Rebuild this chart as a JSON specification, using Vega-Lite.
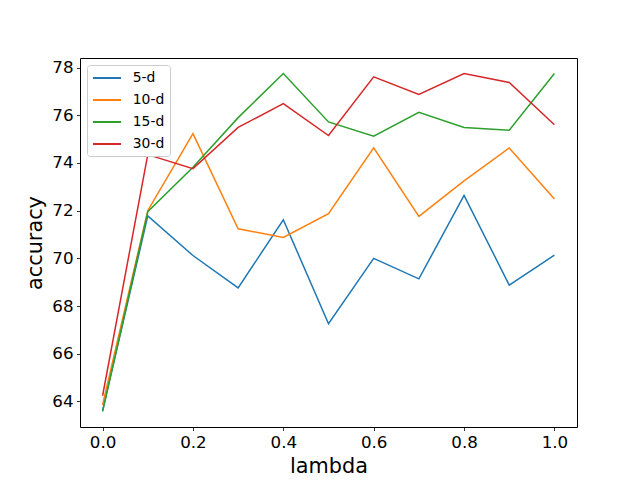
{
  "$schema": "https://vega.github.io/schema/vega-lite/v6.json",
  "width": 497,
  "height": 369,
  "autosize": {"type": "none"},
  "padding": {"left": 80, "top": 58, "right": 63, "bottom": 53},
  "background": "white",
  "config": {
    "font": "DejaVu Sans",
    "view": {"stroke": "black", "strokeWidth": 1},
    "axis": {
      "grid": false,
      "domain": false,
      "tickColor": "black",
      "tickWidth": 0.8,
      "tickSize": 3.5,
      "labelPadding": 3.5,
      "labelColor": "black",
      "labelFont": "DejaVu Sans",
      "labelFontSize": 16.7,
      "titleFont": "DejaVu Sans",
      "titleFontSize": 20.8,
      "titleFontWeight": "normal",
      "titleColor": "black"
    }
  },
  "data": {
    "values": [
      {"lambda": 0.0, "accuracy": 63.62, "series": "5-d"},
      {"lambda": 0.1, "accuracy": 71.78, "series": "5-d"},
      {"lambda": 0.2, "accuracy": 70.12, "series": "5-d"},
      {"lambda": 0.3, "accuracy": 68.76, "series": "5-d"},
      {"lambda": 0.4, "accuracy": 71.62, "series": "5-d"},
      {"lambda": 0.5, "accuracy": 67.26, "series": "5-d"},
      {"lambda": 0.6, "accuracy": 70.0, "series": "5-d"},
      {"lambda": 0.7, "accuracy": 69.14, "series": "5-d"},
      {"lambda": 0.8, "accuracy": 72.64, "series": "5-d"},
      {"lambda": 0.9, "accuracy": 68.88, "series": "5-d"},
      {"lambda": 1.0, "accuracy": 70.14, "series": "5-d"},
      {"lambda": 0.0, "accuracy": 63.86, "series": "10-d"},
      {"lambda": 0.1, "accuracy": 72.0, "series": "10-d"},
      {"lambda": 0.2, "accuracy": 75.23, "series": "10-d"},
      {"lambda": 0.3, "accuracy": 71.24, "series": "10-d"},
      {"lambda": 0.4, "accuracy": 70.88, "series": "10-d"},
      {"lambda": 0.5, "accuracy": 71.87, "series": "10-d"},
      {"lambda": 0.6, "accuracy": 74.63, "series": "10-d"},
      {"lambda": 0.7, "accuracy": 71.76, "series": "10-d"},
      {"lambda": 0.8, "accuracy": 73.25, "series": "10-d"},
      {"lambda": 0.9, "accuracy": 74.63, "series": "10-d"},
      {"lambda": 1.0, "accuracy": 72.49, "series": "10-d"},
      {"lambda": 0.0, "accuracy": 63.58, "series": "15-d"},
      {"lambda": 0.1, "accuracy": 71.96, "series": "15-d"},
      {"lambda": 0.2, "accuracy": 73.82, "series": "15-d"},
      {"lambda": 0.3, "accuracy": 75.9, "series": "15-d"},
      {"lambda": 0.4, "accuracy": 77.75, "series": "15-d"},
      {"lambda": 0.5, "accuracy": 75.72, "series": "15-d"},
      {"lambda": 0.6, "accuracy": 75.12, "series": "15-d"},
      {"lambda": 0.7, "accuracy": 76.12, "series": "15-d"},
      {"lambda": 0.8, "accuracy": 75.49, "series": "15-d"},
      {"lambda": 0.9, "accuracy": 75.37, "series": "15-d"},
      {"lambda": 1.0, "accuracy": 77.75, "series": "15-d"},
      {"lambda": 0.0, "accuracy": 64.24, "series": "30-d"},
      {"lambda": 0.1, "accuracy": 74.35, "series": "30-d"},
      {"lambda": 0.2, "accuracy": 73.76, "series": "30-d"},
      {"lambda": 0.3, "accuracy": 75.49, "series": "30-d"},
      {"lambda": 0.4, "accuracy": 76.49, "series": "30-d"},
      {"lambda": 0.5, "accuracy": 75.15, "series": "30-d"},
      {"lambda": 0.6, "accuracy": 77.61, "series": "30-d"},
      {"lambda": 0.7, "accuracy": 76.87, "series": "30-d"},
      {"lambda": 0.8, "accuracy": 77.75, "series": "30-d"},
      {"lambda": 0.9, "accuracy": 77.37, "series": "30-d"},
      {"lambda": 1.0, "accuracy": 75.6, "series": "30-d"}
    ]
  },
  "mark": {"type": "line", "strokeWidth": 1.5, "clip": true},
  "encoding": {
    "x": {
      "field": "lambda",
      "type": "quantitative",
      "title": "lambda",
      "scale": {"domain": [-0.05, 1.05], "nice": false, "zero": false},
      "axis": {"values": [0, 0.2, 0.4, 0.6, 0.8, 1.0], "format": ".1f", "titlePadding": 6}
    },
    "y": {
      "field": "accuracy",
      "type": "quantitative",
      "title": "accuracy",
      "scale": {"domain": [62.93, 78.4], "nice": false, "zero": false},
      "axis": {"values": [64, 66, 68, 70, 72, 74, 76, 78], "titlePadding": 6}
    },
    "color": {
      "field": "series",
      "type": "nominal",
      "sort": ["5-d", "10-d", "15-d", "30-d"],
      "scale": {"domain": ["5-d", "10-d", "15-d", "30-d"], "range": ["#1f77b4", "#ff7f0e", "#2ca02c", "#d62728"]},
      "legend": {
        "title": null,
        "orient": "top-left",
        "offset": 7,
        "padding": 5,
        "fillColor": "white",
        "strokeColor": "#cccccc",
        "cornerRadius": 3,
        "symbolType": "M-1,0H3",
        "symbolSize": 196,
        "symbolStrokeWidth": 2,
        "symbolFillColor": "transparent",
        "labelFont": "DejaVu Sans",
        "labelFontSize": 13.9,
        "labelColor": "black",
        "labelOffset": 24.7,
        "rowPadding": 7
      }
    }
  }
}
